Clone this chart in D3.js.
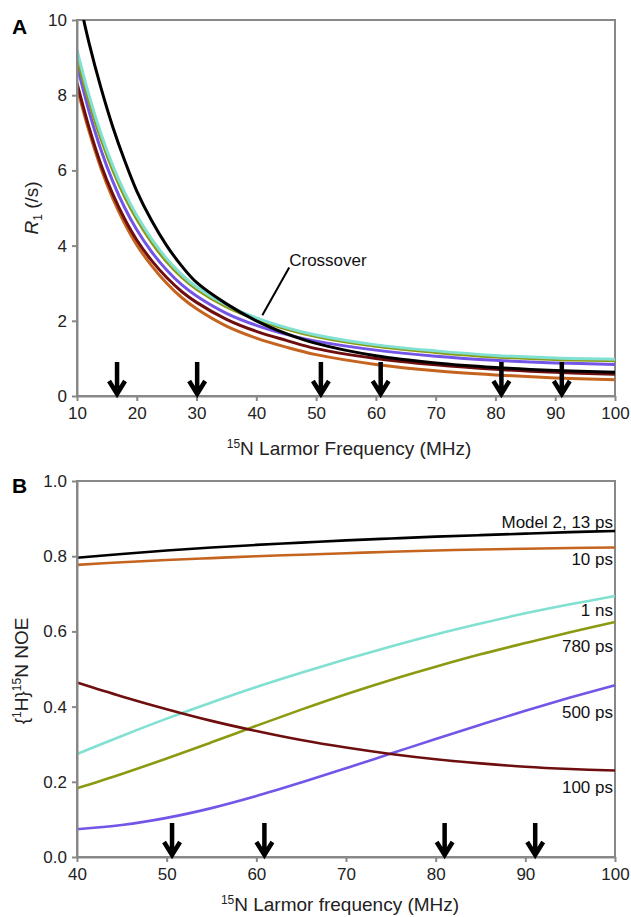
<!DOCTYPE html>
<html>
<head>
<meta charset="utf-8">
<script src="https://cdn.jsdelivr.net/npm/d3@7"></script>
<style>
  body { margin: 0; background: #fff; }
  svg { font-family: Arial, "Liberation Sans", sans-serif; }
  .axis path, .axis line { stroke: #888; stroke-width: 2px; }
  .axis text { fill: #222; font-size: 17px; }
</style>
</head>
<body>
<svg id="chart" width="631" height="917"></svg>
<script>
// Panel A: R1 vs 15N Larmor frequency
var freqA = [10, 12, 14, 16, 18, 20, 22.5, 25, 27.5, 30, 35, 40, 45, 50, 60, 70, 80, 90, 100];
var r1Black  = [10.8, 9.4, 8.2, 7.15, 6.25, 5.45, 4.66, 4.0, 3.46, 3.02, 2.45, 2.0, 1.66, 1.4, 1.07, 0.88, 0.76, 0.68, 0.63];
var r1Cyan   = [9.2, 8.0, 6.98, 6.12, 5.4, 4.8, 4.17, 3.65, 3.23, 2.9, 2.42, 2.08, 1.82, 1.62, 1.36, 1.2, 1.08, 1.01, 0.98];
var r1Olive  = [9.0, 7.84, 6.84, 6.0, 5.29, 4.7, 4.08, 3.57, 3.16, 2.84, 2.37, 2.04, 1.78, 1.58, 1.32, 1.16, 1.04, 0.97, 0.94];
var r1Purple = [8.8, 7.58, 6.55, 5.7, 5.0, 4.42, 3.83, 3.35, 2.96, 2.66, 2.2, 1.88, 1.64, 1.46, 1.22, 1.06, 0.95, 0.88, 0.84];
var r1Maroon = [8.32, 7.15, 6.16, 5.36, 4.7, 4.15, 3.6, 3.15, 2.78, 2.49, 2.04, 1.72, 1.48, 1.26, 1.0, 0.83, 0.71, 0.63, 0.58];
var r1Orange = [8.21, 7.05, 6.06, 5.25, 4.58, 4.02, 3.46, 3.0, 2.62, 2.32, 1.86, 1.54, 1.3, 1.1, 0.84, 0.67, 0.56, 0.48, 0.43];
var arrowsA = [16.7, 30.1, 50.8, 60.8, 81.0, 91.1];

// Panel B: NOE vs 15N Larmor frequency
var freqB = [40, 45, 50, 55, 60, 65, 70, 75, 80, 85, 90, 95, 100];
var noeBlack  = [0.796, 0.806, 0.815, 0.823, 0.830, 0.836, 0.842, 0.847, 0.852, 0.856, 0.860, 0.864, 0.867];
var noeOrange = [0.777, 0.784, 0.790, 0.795, 0.800, 0.804, 0.808, 0.812, 0.815, 0.818, 0.820, 0.822, 0.823];
var noeCyan   = [0.274, 0.322, 0.368, 0.411, 0.452, 0.490, 0.526, 0.560, 0.592, 0.621, 0.648, 0.672, 0.694];
var noeOlive  = [0.183, 0.221, 0.262, 0.305, 0.349, 0.392, 0.433, 0.471, 0.506, 0.539, 0.569, 0.598, 0.625];
var noePurple = [0.074, 0.085, 0.104, 0.130, 0.162, 0.198, 0.236, 0.275, 0.314, 0.352, 0.389, 0.424, 0.457];
var noeMaroon = [0.464, 0.427, 0.393, 0.362, 0.335, 0.311, 0.291, 0.274, 0.260, 0.249, 0.240, 0.234, 0.230];
var labelsB = ["Model 2, 13 ps", "10 ps", "1 ns", "780 ps", "500 ps", "100 ps"];
var labelYB = [0.875, 0.777, 0.640, 0.545, 0.370, 0.170];
var arrowsB = [50.6, 60.9, 81.0, 91.1];

var colors = {
    black: "#000000", cyan: "#80e0d2", olive: "#8c9a12",
    purple: "#7356e8", maroon: "#6e0e0e", orange: "#c4641e"
};

var svg = d3.select("#chart");
var left = 77, right = 615;

function drawArrows(g, x, y0, list) {
    list.forEach(function (f) {
        var cx = x(f);
        g.append("path")
            .attr("d", "M" + cx + "," + (y0 - 34) + "V" + (y0 - 2) +
                  "M" + (cx - 8) + "," + (y0 - 15) + "L" + cx + "," + (y0 - 2) + "L" + (cx + 8) + "," + (y0 - 15))
            .attr("fill", "none")
            .attr("stroke", "#000")
            .attr("stroke-width", 4.5);
    });
}

// ---------- Panel A ----------
var xA = d3.scaleLinear().domain([10, 100]).range([left, right]);
var yA = d3.scaleLinear().domain([0, 10]).range([396, 20]);

svg.append("clipPath").attr("id", "clipA")
    .append("rect").attr("x", left).attr("y", 20).attr("width", right - left).attr("height", 376);

svg.append("rect").attr("x", left).attr("y", 20).attr("width", right - left).attr("height", 376)
    .attr("fill", "none").attr("stroke", "#888").attr("stroke-width", 2);

var gA = svg.append("g").attr("clip-path", "url(#clipA)");
var lineA = d3.line()
    .x(function (d) { return xA(d[0]); })
    .y(function (d) { return yA(d[1]); })
    .curve(d3.curveCatmullRom.alpha(0.5));

var seriesA = [
    [r1Orange, colors.orange], [r1Maroon, colors.maroon], [r1Purple, colors.purple],
    [r1Olive, colors.olive], [r1Cyan, colors.cyan], [r1Black, colors.black]
];
seriesA.forEach(function (s) {
    gA.append("path")
        .datum(freqA.map(function (f, i) { return [f, s[0][i]]; }))
        .attr("d", lineA)
        .attr("fill", "none")
        .attr("stroke", s[1])
        .attr("stroke-width", 3);
});

svg.append("g").attr("class", "axis")
    .attr("transform", "translate(0,396)")
    .call(d3.axisBottom(xA).tickValues(d3.range(10, 101, 10)).tickSize(5).tickSizeOuter(0).tickPadding(6));
svg.append("g").attr("class", "axis")
    .attr("transform", "translate(" + left + ",0)")
    .call(d3.axisLeft(yA).tickValues([0, 2, 4, 6, 8, 10]).tickSize(5).tickSizeOuter(0).tickPadding(5));

drawArrows(svg.append("g"), xA, 396, arrowsA);

// Crossover label
svg.append("line")
    .attr("x1", xA(45.5)).attr("y1", yA(3.42))
    .attr("x2", xA(41.0)).attr("y2", yA(2.15))
    .attr("stroke", "#000").attr("stroke-width", 2);
svg.append("text").attr("x", xA(45.5)).attr("y", 266)
    .attr("font-size", 17).attr("fill", "#111").text("Crossover");

// titles A
svg.append("text").attr("x", 12).attr("y", 34)
    .attr("font-size", 21).attr("font-weight", "bold").text("A");
var tA = svg.append("text").attr("x", 349).attr("y", 455)
    .attr("text-anchor", "middle").attr("font-size", 19).attr("fill", "#222");
tA.append("tspan").attr("font-size", 12).attr("dy", -7).text("15");
tA.append("tspan").attr("dy", 7).text("N Larmor Frequency (MHz)");
var yTA = svg.append("text").attr("transform", "translate(38,208) rotate(-90)")
    .attr("text-anchor", "middle").attr("font-size", 19).attr("fill", "#222");
yTA.append("tspan").attr("font-style", "italic").text("R");
yTA.append("tspan").attr("font-size", 12).attr("dy", 4).text("1");
yTA.append("tspan").attr("dy", -4).text(" (/s)");

// ---------- Panel B ----------
var xB = d3.scaleLinear().domain([40, 100]).range([left, right]);
var yB = d3.scaleLinear().domain([0, 1]).range([857, 481]);

svg.append("rect").attr("x", left).attr("y", 481).attr("width", right - left).attr("height", 376)
    .attr("fill", "none").attr("stroke", "#888").attr("stroke-width", 2);

var lineB = d3.line()
    .x(function (d) { return xB(d[0]); })
    .y(function (d) { return yB(d[1]); })
    .curve(d3.curveCatmullRom.alpha(0.5));

var seriesB = [
    [noeBlack, colors.black], [noeOrange, colors.orange], [noeCyan, colors.cyan],
    [noeOlive, colors.olive], [noePurple, colors.purple], [noeMaroon, colors.maroon]
];
var gB = svg.append("g");
seriesB.forEach(function (s) {
    gB.append("path")
        .datum(freqB.map(function (f, i) { return [f, s[0][i]]; }))
        .attr("d", lineB)
        .attr("fill", "none")
        .attr("stroke", s[1])
        .attr("stroke-width", 2.6);
});

labelsB.forEach(function (t, i) {
    svg.append("text").attr("x", 613).attr("y", yB(labelYB[i]))
        .attr("text-anchor", "end").attr("font-size", 17).attr("fill", "#111").text(t);
});

svg.append("g").attr("class", "axis")
    .attr("transform", "translate(0,857)")
    .call(d3.axisBottom(xB).tickValues(d3.range(40, 101, 10)).tickSize(5).tickSizeOuter(0).tickPadding(6));
svg.append("g").attr("class", "axis")
    .attr("transform", "translate(" + left + ",0)")
    .call(d3.axisLeft(yB).tickValues([0, 0.2, 0.4, 0.6, 0.8, 1.0]).tickFormat(d3.format(".1f"))
        .tickSize(5).tickSizeOuter(0).tickPadding(5));

drawArrows(svg.append("g"), xB, 857, arrowsB);

svg.append("text").attr("x", 12).attr("y", 493)
    .attr("font-size", 21).attr("font-weight", "bold").text("B");
var tB = svg.append("text").attr("x", 340).attr("y", 911)
    .attr("text-anchor", "middle").attr("font-size", 19).attr("fill", "#222");
tB.append("tspan").attr("font-size", 12).attr("dy", -7).text("15");
tB.append("tspan").attr("dy", 7).text("N Larmor frequency (MHz)");
var yTB = svg.append("text").attr("transform", "translate(28,671) rotate(-90)")
    .attr("text-anchor", "middle").attr("font-size", 19).attr("fill", "#222");
yTB.append("tspan").text("{");
yTB.append("tspan").attr("font-size", 12).attr("dy", -7).text("1");
yTB.append("tspan").attr("dy", 7).text("H}");
yTB.append("tspan").attr("font-size", 12).attr("dy", -7).text("15");
yTB.append("tspan").attr("dy", 7).text("N NOE");
</script>
</body>
</html>
